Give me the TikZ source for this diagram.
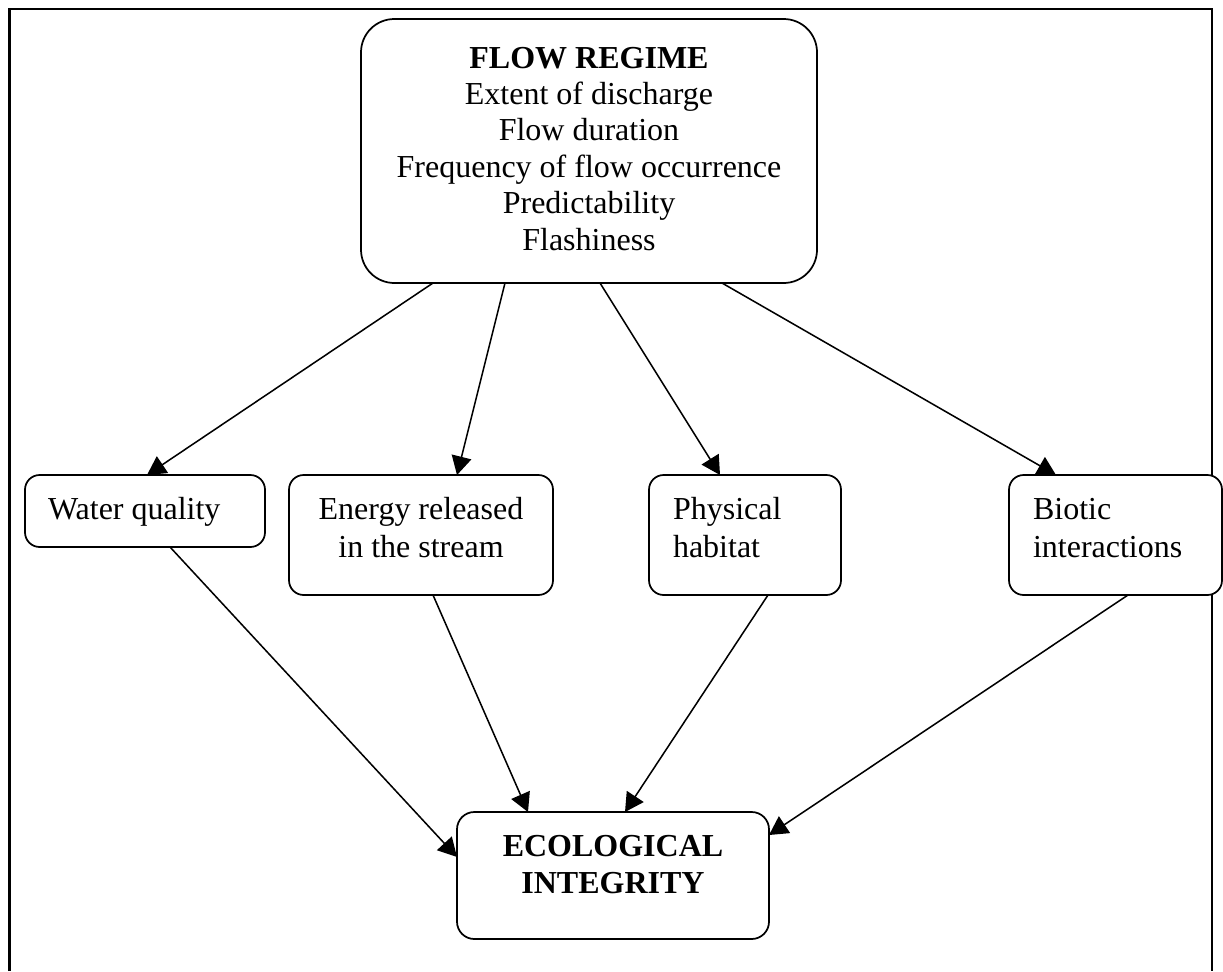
\documentclass[tikz,border=0pt]{standalone}
\usepackage{fontspec}
\setmainfont{Liberation Serif}
\usetikzlibrary{arrows.meta}
\begin{document}
\begin{tikzpicture}[x=0.75pt,y=-0.75pt,
  box/.style={draw, line width=1.3pt, fill=white, inner sep=0pt, outer sep=0pt, rounded corners=11pt},
  arr/.style={line width=1.15pt, -{Triangle[length=14pt,width=15pt]}},
  frameline/.style={line width=2.2pt}]
\useasboundingbox (0,0) rectangle (1223,971);
\draw[frameline] (9.5,971) -- (9.5,9) -- (1212,9) -- (1212,971);

\node[box, rounded corners=25pt] (flow) at (589,151) {\parbox[c][198pt][t]{342pt}{\centering\fontsize{24}{27.3}\selectfont\rule{0pt}{36.75pt}\textbf{FLOW REGIME}\\Extent of discharge\\Flow duration\\Frequency of flow occurrence\\Predictability\\Flashiness}};

\node[box] (water) at (145,511) {\parbox[c][54pt][t]{180pt}{\raggedright\leftskip=17.25pt\fontsize{24}{28.5}\selectfont\rule{0pt}{33pt}Water quality}};

\node[box] (energy) at (421,535) {\parbox[c][90pt][t]{198pt}{\centering\fontsize{24}{28.5}\selectfont\rule{0pt}{33pt}Energy released\\in the stream}};

\node[box] (physical) at (745,535) {\parbox[c][90pt][t]{144pt}{\raggedright\leftskip=18pt\fontsize{24}{28.5}\selectfont\rule{0pt}{33pt}Physical\\habitat}};

\node[box] (biotic) at (1115.5,535) {\parbox[c][90pt][t]{159.75pt}{\raggedright\leftskip=18pt\fontsize{24}{28.5}\selectfont\rule{0pt}{33pt}Biotic\\interactions}};

\node[box, rounded corners=13pt] (eco) at (613,875.5) {\parbox[c][95.25pt][t]{234pt}{\centering\fontsize{24}{27.75}\selectfont\bfseries\rule{0pt}{33pt}ECOLOGICAL\\INTEGRITY}};

\draw[arr] ([xshift=54pt]flow.south west) -- ([xshift=91.5pt]water.north west);
\draw[arr] ([xshift=108pt]flow.south west) -- ([xshift=126pt]energy.north west);
\draw[arr] ([xshift=179.25pt]flow.south west) -- ([xshift=53.25pt]physical.north west);
\draw[arr] ([xshift=270.75pt]flow.south west) -- ([xshift=35.25pt]biotic.north west);
\draw[arr] ([xshift=108.75pt]water.south west) -- ([yshift=-33.75pt]eco.north west);
\draw[arr] ([xshift=108pt]energy.south west) -- ([xshift=53.25pt]eco.north west);
\draw[arr] ([xshift=89.25pt]physical.south west) -- ([xshift=126pt]eco.north west);
\draw[arr] ([xshift=89.25pt]biotic.south west) -- ([yshift=-17.25pt]eco.north east);
\end{tikzpicture}
\end{document}
